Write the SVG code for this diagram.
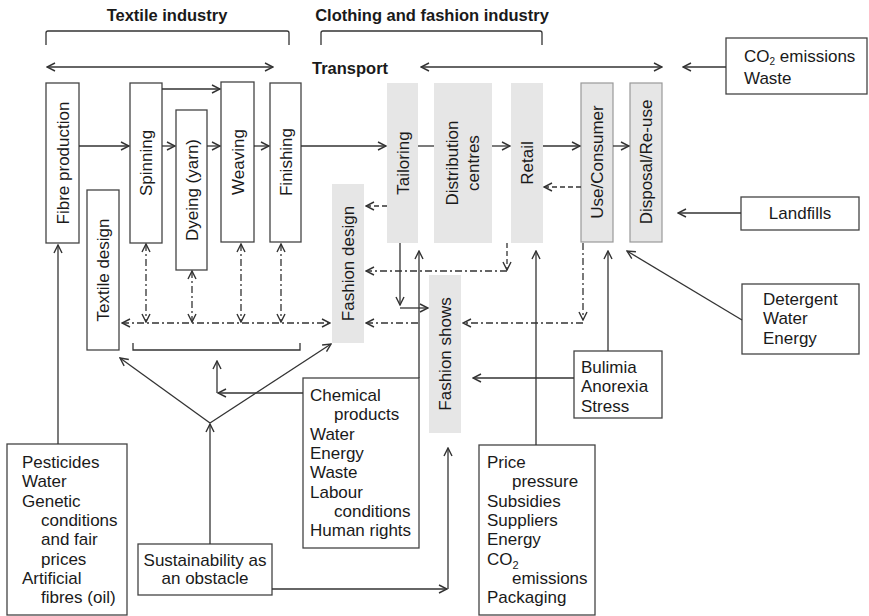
<svg xmlns="http://www.w3.org/2000/svg" width="869" height="616" viewBox="0 0 869 616">
<defs>
<marker id="ah" viewBox="0 0 10 10" refX="9" refY="5" markerWidth="10" markerHeight="10" markerUnits="userSpaceOnUse" orient="auto-start-reverse">
<path d="M1,1 L9,5 L1,9" fill="none" stroke="#333" stroke-width="1.4"/>
</marker>
</defs>
<style>
text{font-family:"Liberation Sans",Arial,sans-serif;font-size:17px;fill:#1a1a1a}
.b{font-weight:bold;font-size:16.5px}
.box{fill:#fff;stroke:#444;stroke-width:1.3}
.g{fill:#e6e6e6;stroke:none}
.gb{fill:#e6e6e6;stroke:#999;stroke-width:1.2}
.c path,.c line{fill:none;stroke:#333;stroke-width:1.3}
.a{marker-end:url(#ah)}
.d2{marker-start:url(#ah);marker-end:url(#ah)}
.dd{stroke-dasharray:7 3 2 3}
.ds{stroke-dasharray:5 3}
.v{text-anchor:middle}
</style>
<rect width="869" height="616" fill="#fff"/>
<g id="headers">
<text class="b" x="167" y="21" text-anchor="middle">Textile industry</text>
<text class="b" x="432" y="21" text-anchor="middle">Clothing and fashion industry</text>
<text class="b" x="312" y="74">Transport</text>
</g>
<g id="fibre"><rect class="box" x="46" y="83" width="33" height="160"/><text class="v" transform="translate(62.5,163) rotate(-90)" dy="6">Fibre production</text></g>
<g id="spinning"><rect class="box" x="130" y="83" width="32" height="160"/><text class="v" transform="translate(146,163) rotate(-90)" dy="6">Spinning</text></g>
<g id="dyeing"><rect class="box" x="176" y="110" width="31" height="160"/><text class="v" transform="translate(191.5,190) rotate(-90)" dy="6">Dyeing (yarn)</text></g>
<g id="weaving"><rect class="box" x="221" y="82" width="33" height="160"/><text class="v" transform="translate(237.5,162) rotate(-90)" dy="6">Weaving</text></g>
<g id="finishing"><rect class="box" x="270" y="83" width="31" height="159"/><text class="v" transform="translate(285.5,162) rotate(-90)" dy="6">Finishing</text></g>
<g id="textile-design"><rect class="box" x="87" y="190" width="32" height="160"/><text class="v" transform="translate(103,270) rotate(-90)" dy="6">Textile design</text></g>
<g id="tailoring"><rect class="g" x="387" y="83" width="31" height="160"/><text class="v" transform="translate(403,163) rotate(-90)" dy="6">Tailoring</text></g>
<g id="distribution"><rect class="g" x="434" y="83" width="58" height="160"/><text class="v" transform="translate(462.5,163) rotate(-90)"><tspan x="0" dy="-4.5">Distribution</tspan><tspan x="0" dy="21">centres</tspan></text></g>
<g id="retail"><rect class="g" x="511" y="83" width="32" height="160"/><text class="v" transform="translate(527,163) rotate(-90)" dy="6">Retail</text></g>
<g id="use"><rect class="gb" x="581" y="83" width="32" height="159"/><text class="v" transform="translate(597,162) rotate(-90)" dy="6">Use/Consumer</text></g>
<g id="disposal"><rect class="gb" x="630" y="83" width="32" height="159"/><text class="v" transform="translate(646,162) rotate(-90)" dy="6">Disposal/Re-use</text></g>
<g id="fashion-design"><rect class="g" x="332" y="184" width="32" height="159"/><text class="v" transform="translate(348,263.5) rotate(-90)" dy="6">Fashion design</text></g>
<g id="fashion-shows"><rect class="g" x="429" y="275" width="32" height="158"/><text class="v" transform="translate(445,354) rotate(-90)" dy="6">Fashion shows</text></g>
<g id="co2"><rect class="box" x="726" y="38" width="141" height="56"/><text x="744" y="62">CO<tspan font-size="10" dy="2.5">2</tspan><tspan dy="-2.5"> emissions</tspan></text><text x="744" y="84">Waste</text></g>
<g id="landfills"><rect class="box" x="741" y="197" width="118" height="33"/><text x="800" y="219" text-anchor="middle">Landfills</text></g>
<g id="detergent"><rect class="box" x="742" y="284" width="117" height="70"/><text x="763" y="305">Detergent</text><text x="763" y="324.3">Water</text><text x="763" y="343.6">Energy</text></g>
<g id="bulimia"><rect class="box" x="574" y="351" width="88" height="67"/><text x="581" y="373">Bulimia</text><text x="581" y="392.3">Anorexia</text><text x="581" y="411.6">Stress</text></g>
<g id="chemical"><rect class="box" x="303" y="378" width="116" height="170"/>
<text x="310" y="401">Chemical</text><text x="334" y="420.3">products</text><text x="310" y="439.6">Water</text><text x="310" y="458.9">Energy</text><text x="310" y="478.2">Waste</text><text x="310" y="497.5">Labour</text><text x="334" y="516.8">conditions</text><text x="310" y="536.1">Human rights</text></g>
<g id="pesticides"><rect class="box" x="7" y="444" width="120" height="171"/>
<text x="22" y="468">Pesticides</text><text x="22" y="487.3">Water</text><text x="22" y="506.6">Genetic</text><text x="41" y="525.9">conditions</text><text x="41" y="545.2">and fair</text><text x="41" y="564.5">prices</text><text x="22" y="583.8">Artificial</text><text x="41" y="603.1">fibres (oil)</text></g>
<g id="price"><rect class="box" x="479" y="445" width="116" height="170"/>
<text x="487" y="468">Price</text><text x="512" y="487.3">pressure</text><text x="487" y="506.6">Subsidies</text><text x="487" y="525.9">Suppliers</text><text x="487" y="545.2">Energy</text><text x="487" y="564.5">CO<tspan font-size="11" dy="4">2</tspan><tspan x="512" y="583.8">emissions</tspan></text><text x="487" y="603.1">Packaging</text></g>
<g id="sustainability"><rect class="box" x="138" y="544" width="134" height="51"/><text x="205" y="566" text-anchor="middle">Sustainability as</text><text x="205" y="584" text-anchor="middle">an obstacle</text></g>
<g id="connectors" class="c">
<path d="M46,45 V33 Q46,31 48,31 H287 Q289,31 289,33 V45"/>
<path d="M321,45 V33 Q321,31 323,31 H540 Q542,31 542,33 V45"/>
<path d="M133,343 V350 H300 V343"/>
<line class="d2" x1="47" y1="67" x2="273" y2="67"/>
<line class="d2" x1="421" y1="67" x2="662" y2="67"/>
<line class="a" x1="726" y1="67" x2="683" y2="67"/>
<line class="a" x1="79" y1="146" x2="129" y2="146"/>
<line class="a" x1="162" y1="146" x2="175" y2="146"/>
<line class="a" x1="207" y1="146" x2="220" y2="146"/>
<line class="a" x1="254" y1="146" x2="269" y2="146"/>
<line class="a" x1="301" y1="146" x2="386" y2="146"/>
<line x1="418" y1="146" x2="434" y2="146"/>
<line class="a" x1="492" y1="146" x2="510" y2="146"/>
<line class="a" x1="543" y1="146" x2="580" y2="146"/>
<line class="a" x1="613" y1="146" x2="629" y2="146"/>
<line class="a" x1="162" y1="89" x2="220" y2="89"/>
<line class="a ds" x1="387" y1="206" x2="366" y2="206"/>
<line class="a ds" x1="581" y1="187" x2="544" y2="187"/>
<line class="a ds" x1="507" y1="243" x2="507" y2="270"/>
<line class="a dd" x1="507" y1="271" x2="366" y2="271"/>
<line class="a dd" x1="583" y1="243" x2="583" y2="320"/>
<line class="a dd" x1="583" y1="323" x2="463" y2="323"/>
<line class="a dd" x1="418" y1="323" x2="366" y2="323"/>
<line class="d2 dd" x1="122" y1="323" x2="330" y2="323"/>
<line class="d2 dd" x1="146" y1="244" x2="146" y2="322"/>
<line class="d2 dd" x1="192" y1="271" x2="192" y2="322"/>
<line class="d2 dd" x1="241" y1="244" x2="241" y2="322"/>
<line class="d2 dd" x1="281" y1="244" x2="281" y2="322"/>
<line class="a" x1="400" y1="243" x2="400" y2="305"/>
<line class="a" x1="400" y1="308" x2="428" y2="308"/>
<line class="a" x1="419" y1="378" x2="419" y2="251"/>
<line class="a" x1="303" y1="393" x2="218" y2="393"/>
<line class="a" x1="217" y1="393" x2="217" y2="361"/>
<line class="a" x1="58" y1="444" x2="58" y2="245"/>
<line class="a" x1="210" y1="544" x2="210" y2="424"/>
<line class="a" x1="210" y1="423" x2="120" y2="358"/>
<line class="a" x1="210" y1="423" x2="331" y2="344"/>
<line class="a" x1="272" y1="589" x2="447" y2="589"/>
<line class="a" x1="448" y1="589" x2="448" y2="448"/>
<line class="a" x1="536" y1="445" x2="536" y2="251"/>
<line class="a" x1="608" y1="351" x2="608" y2="251"/>
<line class="a" x1="574" y1="378" x2="473" y2="378"/>
<line class="a" x1="742" y1="320" x2="627" y2="251"/>
<line class="a" x1="741" y1="213" x2="678" y2="213"/>
</g>
</svg>
